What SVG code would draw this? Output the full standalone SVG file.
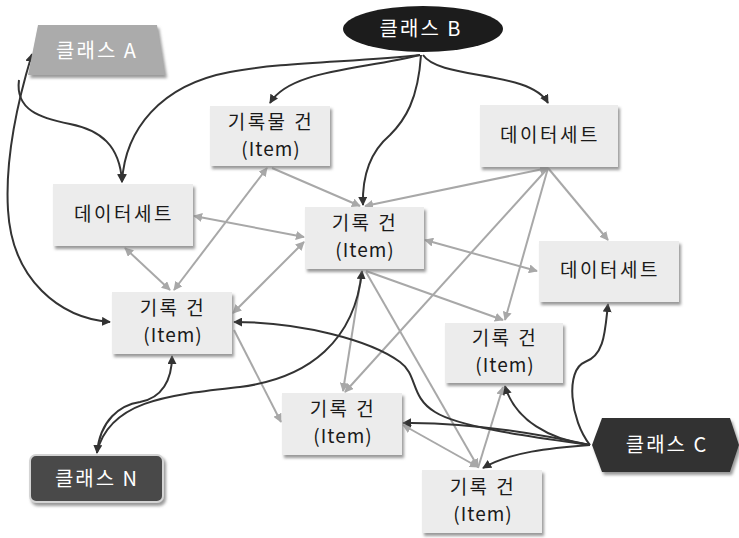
<svg xmlns="http://www.w3.org/2000/svg" width="739" height="538" viewBox="0 0 739 538">
<defs>
<style>
.node rect.box{fill:#ececec;filter:url(#sh);}
.t{font-family:"Noto Sans CJK KR","Liberation Sans",sans-serif;font-size:19px;fill:#1a1a1a;text-anchor:middle;letter-spacing:1px;}
.k{letter-spacing:2.5px;}
.w{font-family:"Noto Sans CJK KR","Liberation Sans",sans-serif;font-size:20px;fill:#ffffff;text-anchor:middle;letter-spacing:2px;}
.dk{fill:none;stroke:#333;stroke-width:2;marker-end:url(#ad);}
.gr{fill:none;stroke:#a8a8a8;stroke-width:2;marker-end:url(#ag);}
.both{marker-start:url(#ag);}
</style>
<filter id="sh" x="-10%" y="-10%" width="130%" height="140%">
<feDropShadow dx="2" dy="3" stdDeviation="1.5" flood-color="#808080" flood-opacity="0.8"/>
</filter>
<marker id="ad" viewBox="0 0 10 10" refX="9" refY="5" markerWidth="9" markerHeight="9" markerUnits="userSpaceOnUse" orient="auto-start-reverse">
<path d="M0,0 L10,5 L0,10 z" fill="#333"/>
</marker>
<marker id="ag" viewBox="0 0 10 10" refX="9" refY="5" markerWidth="9" markerHeight="9" markerUnits="userSpaceOnUse" orient="auto-start-reverse">
<path d="M0,0 L10,5 L0,10 z" fill="#a8a8a8"/>
</marker>
</defs>
<rect width="739" height="538" fill="#ffffff"/>

<g id="connectors">
<path class="gr both" d="M194,216 L304,237"/>
<path class="gr both" d="M125,248 L170,290"/>
<path class="gr both" d="M267,168 L174,290"/>
<path class="gr" d="M272,168 L360,206"/>
<path class="gr both" d="M233,313 L304,242"/>
<path class="gr" d="M234,330 L281,422"/>
<path class="gr both" d="M548,168 L365,206"/>
<path class="gr" d="M548,168 L608,240"/>
<path class="gr" d="M548,168 L345,392"/>
<path class="gr" d="M548,168 L505,320"/>
<path class="gr both" d="M425,240 L537,271"/>
<path class="gr" d="M366,271 L503,320"/>
<path class="gr" d="M362,271 L343,391"/>
<path class="gr" d="M366,272 L478,467"/>
<path class="gr" d="M478,468 L503,387"/>
<path class="gr both" d="M403,425 L478,467"/>
<path class="dk" style="marker-start:url(#ad)" d="M110,322 C60,318 12,280 8,210 C5,160 18,100 32,54"/>
<path class="dk" d="M19,80 C15,110 40,118 70,124 C100,130 120,145 122,182"/>
<path class="dk" d="M420,55 C360,62 280,62 230,72 C160,85 125,130 122,182"/>
<path class="dk" d="M420,55 C360,70 290,70 270,103"/>
<path class="dk" d="M421,55 C418,100 405,120 390,135 C370,152 362,175 363,205"/>
<path class="dk" d="M423,55 C440,80 530,70 548,103"/>
<path class="dk" d="M590,445 C570,420 565,370 585,362 C605,355 605,330 608,304"/>
<path class="dk" d="M590,445 C550,440 515,420 505,386"/>
<path class="dk" d="M590,445 C550,448 510,452 483,468"/>
<path class="dk" d="M590,445 C520,430 460,422 403,423"/>
<path class="dk" d="M590,445 C540,438 460,428 435,412 C410,397 418,375 400,362 C370,340 300,322 234,322"/>
<path class="dk" style="marker-start:url(#ad)" d="M97,453 C100,420 120,405 140,402 C162,398 172,380 172,356"/>
<path class="dk" d="M97,452 C110,400 170,395 240,387 C310,378 355,340 362,271"/>
</g>

<g id="classA" class="node">
<polygon points="38,25 157,25 165,75 28,75" fill="#ababab" filter="url(#sh)"/>
<text class="w" x="97" y="58">클래스 A</text>
</g>
<g id="classB" class="node">
<ellipse cx="423" cy="29" rx="80" ry="23" fill="#1c1c1c"/>
<text class="w" x="421" y="36">클래스 B</text>
</g>
<g id="item1" class="node">
<rect class="box" x="210" y="106" width="120" height="60"/>
<text class="t k" x="271" y="129">기록물 건</text>
<text class="t" x="271" y="156">(Item)</text>
</g>
<g id="ds1" class="node">
<rect class="box" x="480" y="105" width="138" height="62"/>
<text class="t k" x="550" y="142">데이터세트</text>
</g>
<g id="ds2" class="node">
<rect class="box" x="53" y="184" width="140" height="62"/>
<text class="t k" x="124" y="221">데이터세트</text>
</g>
<g id="item2" class="node">
<rect class="box" x="305" y="207" width="119" height="62"/>
<text class="t k" x="365" y="230">기록 건</text>
<text class="t" x="365" y="257">(Item)</text>
</g>
<g id="ds3" class="node">
<rect class="box" x="539" y="241" width="140" height="61"/>
<text class="t k" x="610" y="277">데이터세트</text>
</g>
<g id="item3" class="node">
<rect class="box" x="112" y="292" width="120" height="62"/>
<text class="t k" x="173" y="315">기록 건</text>
<text class="t" x="173" y="342">(Item)</text>
</g>
<g id="item4" class="node">
<rect class="box" x="445" y="323" width="118" height="60"/>
<text class="t k" x="505" y="345">기록 건</text>
<text class="t" x="505" y="372">(Item)</text>
</g>
<g id="item5" class="node">
<rect class="box" x="282" y="393" width="120" height="62"/>
<text class="t k" x="343" y="416">기록 건</text>
<text class="t" x="343" y="443">(Item)</text>
</g>
<g id="item6" class="node">
<rect class="box" x="422" y="470" width="120" height="63"/>
<text class="t k" x="483" y="494">기록 건</text>
<text class="t" x="483" y="521">(Item)</text>
</g>
<g id="classN" class="node">
<rect x="30" y="455" width="133" height="47" rx="6" fill="#4a4a4a" stroke="#d4d4d4" stroke-width="2" filter="url(#sh)"/>
<text class="w" x="97" y="486">클래스 N</text>
</g>
<g id="classC" class="node">
<polygon points="592,445 602,418 730,418 739,445 730,472 602,472" fill="#333333" filter="url(#sh)"/>
<text class="w" x="667" y="452">클래스 C</text>
</g>
</svg>
